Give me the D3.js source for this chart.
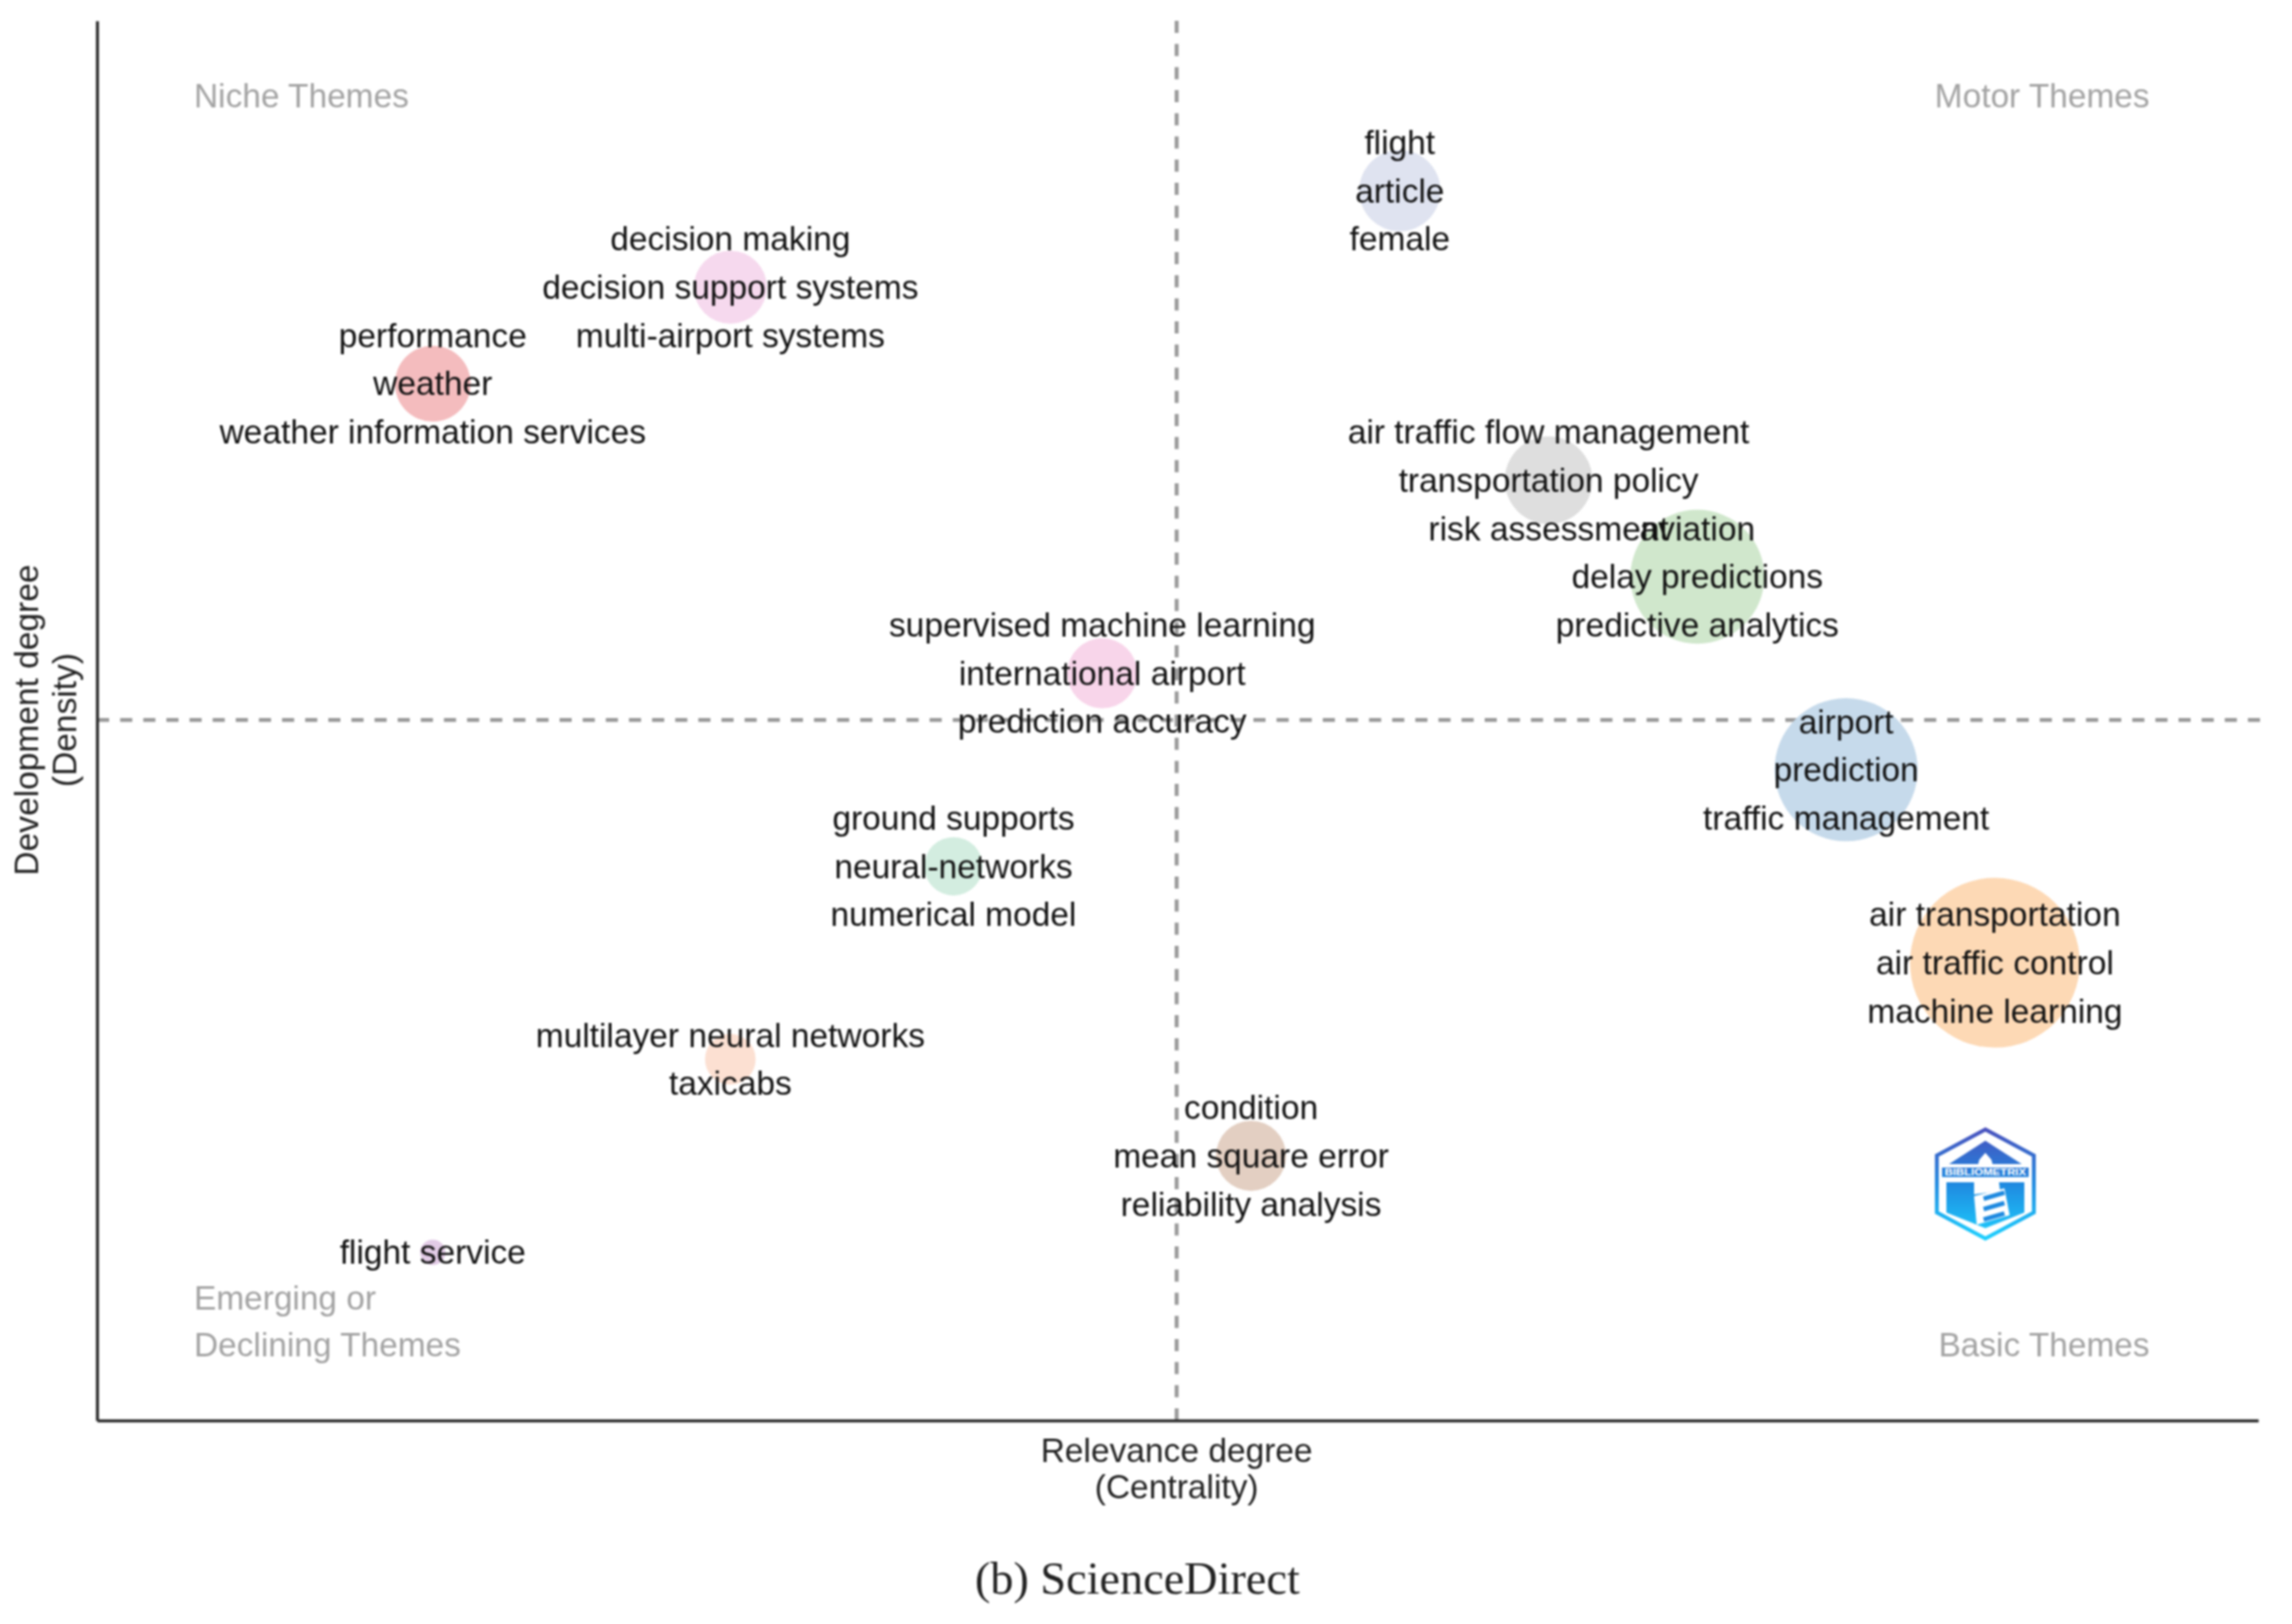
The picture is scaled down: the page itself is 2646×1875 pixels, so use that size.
<!DOCTYPE html>
<html><head><meta charset="utf-8">
<script src="https://d3js.org/d3.v7.min.js"></script>
<style>html,body{margin:0;padding:0;background:#fff}svg{display:block;filter:blur(0.9px)}</style>
</head><body><div id="chart"></div>
<script>
// Rank-based centrality and density, one entry per cluster
const centrality = [8, 3.5, 1.5, 9, 10, 6, 11, 5, 12, 3.5, 7, 1.5];
const density    = [12, 11, 10, 9, 8, 7, 6, 5, 4, 3, 2, 1];
const clusterSize = [31, 25, 27, 36, 84, 23, 96, 16, 135, 12, 23, 3];
const clusterColors = ["#dfe3f0","#f6d9ee","#f4bcbe","#dedede","#d0e7cc","#f8d5ea","#c6daeb","#d3ede0","#fdd9b5","#fce0d2","#e3cfc2","#e2cbe6"];
const clusterLabels = [
  ["flight","article","female"],
  ["decision making","decision support systems","multi-airport systems"],
  ["performance","weather","weather information services"],
  ["air traffic flow management","transportation policy","risk assessment"],
  ["aviation","delay predictions","predictive analytics"],
  ["supervised machine learning","international airport","prediction accuracy"],
  ["airport","prediction","traffic management"],
  ["ground supports","neural-networks","numerical model"],
  ["air transportation","air traffic control","machine learning"],
  ["multilayer neural networks","taxicabs"],
  ["condition","mean square error","reliability analysis"],
  ["flight service"]
];
const quadrantNames = [["Niche Themes"],["Motor Themes"],["Emerging or","Declining Themes"],["Basic Themes"]];
const quadrantRank = [[-0.105,12.864],[13.04,12.864],[-0.105,-0.076],[13.04,-0.076]];
const xDomain = [-0.757, 13.77];
const yDomain = [-0.742, 13.76];
const meanRankX = 6.5;
const meanRankY = 6.515;
const xTitle = ["Relevance degree","(Centrality)"];
const yTitle = ["Development degree","(Density)"];
const caption = "(b) ScienceDirect";

const W=2646,H=1875;
const m={l:112,r:2607,t:24,b:1640};
const svg=d3.select("#chart").append("svg").attr("width",W).attr("height",H).attr("viewBox",[0,0,W,H]);
const x=d3.scaleLinear().domain(xDomain).range([m.l,m.r]);
const y=d3.scaleLinear().domain(yDomain).range([m.b,m.t]);
const r=d3.scaleSqrt().domain([0,135]).range([0,98]);
const sans="'Liberation Sans',Arial,sans-serif";
const labelSize=38.7,lineGap=55.7,dash="14 12.7";

// mean lines
svg.append("line").attr("x1",x(meanRankX)).attr("x2",x(meanRankX)).attr("y1",m.t).attr("y2",m.b).attr("stroke","#999").attr("stroke-width",4.5).attr("stroke-dasharray",dash);
svg.append("line").attr("x1",m.l).attr("x2",m.r+5).attr("y1",y(meanRankY)).attr("y2",y(meanRankY)).attr("stroke","#999").attr("stroke-width",4.5).attr("stroke-dasharray",dash);

// axes (no ticks)
svg.append("g").attr("transform",`translate(0,${m.b})`).call(d3.axisBottom(x).tickValues([]).tickSize(0));
svg.append("g").attr("transform",`translate(${m.l},0)`).call(d3.axisLeft(y).tickValues([]).tickSize(0));
svg.selectAll(".domain").attr("stroke","#2b2b2b").attr("stroke-width",3.5);

// bubbles
svg.append("g").selectAll("circle").data(centrality).join("circle")
  .attr("cx",d=>x(d)).attr("cy",(d,i)=>y(density[i])).attr("r",(d,i)=>r(clusterSize[i]))
  .attr("fill",(d,i)=>clusterColors[i]);

// labels
const lg=svg.append("g").attr("font-family",sans).attr("font-size",labelSize).attr("fill","#111").attr("text-anchor","middle");
clusterLabels.forEach((lines,i)=>{
  const off=(lines.length-1)/2;
  lg.append("text").selectAll("tspan").data(lines).join("tspan")
    .attr("x",x(centrality[i])).attr("y",(d,j)=>y(density[i])+(j-off)*lineGap+13.5).text(d=>d);
});

// quadrant names
const qg=svg.append("g").attr("font-family",sans).attr("font-size",38.6).attr("fill","#a3a3a3");
quadrantNames.forEach((lines,i)=>{
  const t=qg.append("text").attr("text-anchor",i%2===1?"end":"start");
  const base=y(quadrantRank[i][1]);
  lines.forEach((s,j)=>t.append("tspan").attr("x",x(quadrantRank[i][0])).attr("y",base+(j-(lines.length-1))*54).text(s));
});

// axis titles
const tg=svg.append("g").attr("font-family",sans).attr("font-size",38.7).attr("fill","#222").attr("text-anchor","middle");
xTitle.forEach((s,j)=>tg.append("text").attr("x",x(meanRankX)).attr("y",1688+j*42).text(s));
yTitle.forEach((s,j)=>tg.append("text").attr("transform",`translate(${44+j*44},${y(meanRankY)}) rotate(-90)`).text(s));

// caption
svg.append("text").attr("x",1313).attr("y",1840).attr("text-anchor","middle").attr("font-family","'Liberation Serif','Times New Roman',serif").attr("font-size",53.4).attr("fill","#222").text(caption);

// logo
const g=svg.append("defs").append("linearGradient").attr("id","lg").attr("gradientUnits","userSpaceOnUse").attr("x1",0).attr("x2",0).attr("y1",-65).attr("y2",65);
g.append("stop").attr("offset","0").attr("stop-color","#4a50bd");
g.append("stop").attr("offset","0.5").attr("stop-color","#1f8ae0");
g.append("stop").attr("offset","1").attr("stop-color","#1ed1ff");
const logo=svg.append("g").attr("transform","translate(2292,1367)");
const fill="url(#lg)";
logo.append("path").attr("d","M0,-63 L56,-33 L56,33 L0,63 L-56,33 L-56,-33 Z").attr("fill","none").attr("stroke",fill).attr("stroke-width",4.5);
logo.append("path").attr("d","M0,-50 L42,-23 L-42,-23 Z").attr("fill",fill);
logo.append("path").attr("d","M0,-36 L7,-28 L9,-20 L-9,-20 L-7,-28 Z").attr("fill","#fff");
logo.append("rect").attr("x",-50).attr("y",-19).attr("width",100).attr("height",11).attr("fill",fill);
logo.append("text").attr("x",0).attr("y",-10).attr("text-anchor","middle").attr("textLength",94).attr("lengthAdjust","spacingAndGlyphs").attr("font-family",sans).attr("font-weight","bold").attr("font-size",10).attr("fill","#fff").text("BIBLIOMETRIX");
logo.append("path").attr("d","M-45,-2 L45,-2 L45,33 L0,51 L-45,33 Z").attr("fill",fill);
logo.append("path").attr("d","M-13,-8 L15,-8 L17,8 L-13,12 Z").attr("fill","#fff");
logo.append("path").attr("d","M-13,14 L22,5 L28,36 L-10,47 Z").attr("fill","#fff");
logo.selectAll("line.book").data([13,25,37]).join("line").attr("class","book")
  .attr("x1",-2).attr("x2",22).attr("y1",v=>v+4).attr("y2",v=>v-3).attr("stroke-width",5).attr("stroke","#1f8ae0");
</script></body></html>
